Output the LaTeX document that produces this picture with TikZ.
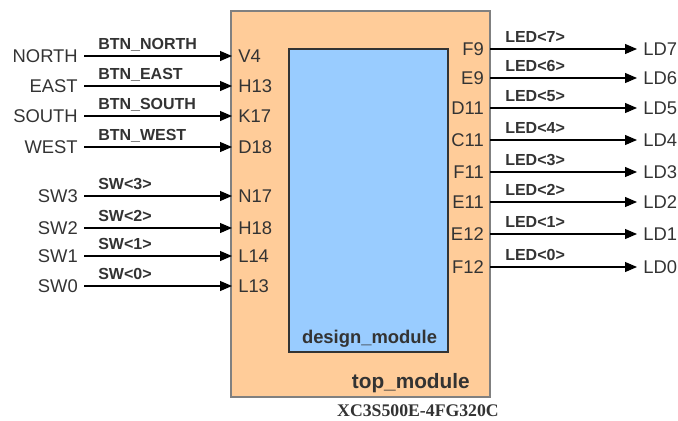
\documentclass[tikz,border=0pt]{standalone}
\usepackage{fontspec}
\setmainfont{Liberation Sans}
\newfontfamily\partfont{Liberation Serif}
\usetikzlibrary{arrows.meta,positioning}
\definecolor{peach}{RGB}{255,204,153}
\definecolor{sky}{RGB}{153,204,255}
\definecolor{frame}{RGB}{128,128,128}
\definecolor{ink}{RGB}{51,51,51}
\tikzset{
  >={Triangle[length=9pt,width=7.5pt]},
  wire/.style={->,line width=0.8pt,draw=black},
  port/.style={font=\fontsize{13.8}{16}\selectfont,text=ink,inner xsep=4.5pt,inner ysep=2pt},
  sig/.style={font=\fontsize{12}{14}\selectfont\bfseries,text=ink,inner sep=0pt,anchor=base west},
  modbox/.style={draw=#1,fill=sky,line width=0.8pt,inner sep=0pt},
  modbox/.default=ink,
}

\begin{document}
\begin{tikzpicture}[x=0.75pt,y=-0.75pt]
  \useasboundingbox (0,0) rectangle (678,421);
  % FPGA and module
  \node[modbox=frame,fill=peach,line width=2.2pt,minimum width=194.25pt,minimum height=289.5pt] (top) at (360.5,204) {};
  \node[modbox,minimum width=119.25pt,minimum height=227.25pt] (design) at (368.5,200.5) {};
  \node[font=\fontsize{13.8}{16}\selectfont\bfseries,text=ink,anchor=base] (dname) at (369.5,343) {design\_module};
  \node[font=\fontsize{15.6}{18}\selectfont\bfseries,text=ink,anchor=base east,inner sep=0pt] (tname) at (470,388) {top\_module};
  \node[font=\partfont\bfseries\fontsize{13.3}{16}\selectfont,text=ink,anchor=base,inner sep=0pt] (chip) at (418,416) {XC3S500E-4FG320C};
  % inputs
  \foreach \nm/\sig/\pin/\y [count=\i] in {NORTH/BTN\_NORTH/V4/56,EAST/BTN\_EAST/H13/86,
      SOUTH/BTN\_SOUTH/K17/116,WEST/BTN\_WEST/D18/147,SW3/SW<3>/N17/196,
      SW2/SW<2>/H18/228,SW1/SW<1>/L14/256,SW0/SW<0>/L13/286}{
    \node[port,anchor=east] (in\i) at (84,\y) {\nm};
    \node[port,anchor=west] (pin\i) at (232,\y) {\pin};
    \node[sig] (sig\i) at (98,\y-7) {\sig};
    \draw[wire] (in\i) -- (pin\i);
  }
  % outputs
  \foreach \pin/\y/\k in {F9/49/7,E9/78/6,D11/108/5,C11/140/4,F11/172/3,E11/202/2,E12/234/1,F12/267/0}{
    \node[port,anchor=east] (pout\k) at (490,\y) {\pin};
    \node[port,anchor=west] (ld\k) at (637,\y) {LD\k};
    \node[sig] (led\k) at (505,\y-7) {LED<\k>};
    \draw[wire] (pout\k) -- (ld\k);
  }
\end{tikzpicture}
\end{document}
